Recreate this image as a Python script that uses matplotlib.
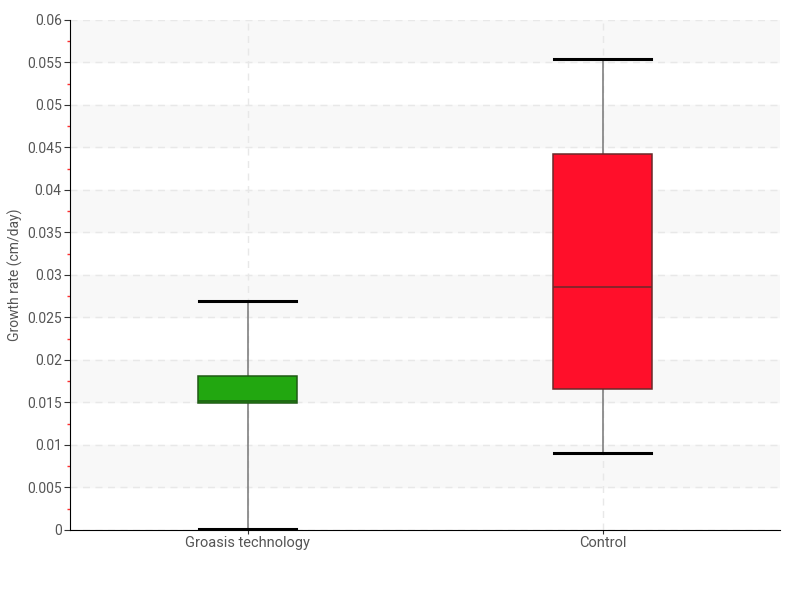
import matplotlib
matplotlib.use("Agg")
import matplotlib.pyplot as plt
from matplotlib.ticker import MultipleLocator, FormatStrFormatter

# ----------------------------
# DATA
# ----------------------------
groups = ["Groasis technology", "Control"]
whisker_low = [0.0001, 0.0091]
q1 = [0.0149, 0.0166]
median = [0.0152, 0.0286]
q3 = [0.0181, 0.0442]
whisker_high = [0.0269, 0.0554]
face_colors = ["#22a710", "#ff0f2a"]
edge_colors = ["#1f5a14", "#6a2a2a"]

plt.rcParams['font.family'] = ['Roboto', 'DejaVu Sans']

fig = plt.figure(figsize=(8, 6), dpi=100)
ax = fig.add_axes([0.0875, 0.1167, 0.8875, 0.85])

# alternating light bands
for k in range(6):
    ax.axhspan(0.005 + 0.01 * k, 0.01 + 0.01 * k, color="#f8f8f8", zorder=0)

stats = []
for i, g in enumerate(groups):
    stats.append({
        "label": g,
        "whislo": whisker_low[i],
        "q1": q1[i],
        "med": median[i],
        "q3": q3[i],
        "whishi": whisker_high[i],
        "fliers": [],
    })

bp = ax.bxp(stats, positions=[0, 1], widths=0.28, patch_artist=True,
            showfliers=False,
            whiskerprops=dict(color="#808080", linewidth=1.2),
            capprops=dict(color="black", linewidth=2.2),
            capwidths=0.275)
for i, box in enumerate(bp["boxes"]):
    box.set_facecolor(face_colors[i])
    box.set_edgecolor(edge_colors[i])
    box.set_linewidth(1.1)
    box.set_zorder(3)
for i, med in enumerate(bp["medians"]):
    med.set_color(edge_colors[i])
    med.set_linewidth(1.1)
    med.set_zorder(4)

ax.set_xlim(-0.5, 1.5)
ax.set_ylim(0, 0.06)
ax.yaxis.set_major_locator(MultipleLocator(0.005))
ax.yaxis.set_minor_locator(MultipleLocator(0.0025))
ax.yaxis.set_major_formatter(FormatStrFormatter('%g'))
ax.set_xticks([0, 1])
ax.set_xticklabels(groups)

ax.grid(True, which="major", axis="both", linestyle=(0, (5, 4)),
        color="#e8e8e8", linewidth=1, zorder=1)
ax.set_axisbelow(True)

for side in ["top", "right"]:
    ax.spines[side].set_visible(False)
ax.spines["left"].set_color("black")
ax.spines["bottom"].set_color("black")

ax.tick_params(axis="y", which="major", length=4, color="#333333",
               labelsize=10, labelcolor="#555555", pad=2)
ax.tick_params(axis="y", which="minor", length=2, width=1, color="#ff3030")
ax.tick_params(axis="x", length=3, color="#333333", labelsize=10.5,
               labelcolor="#555555", pad=1)

ax.set_ylabel("Growth rate (cm/day)", fontsize=10, color="#555555")
ax.yaxis.set_label_coords(-0.066, 0.5)

plt.savefig("out.png", dpi=100)
